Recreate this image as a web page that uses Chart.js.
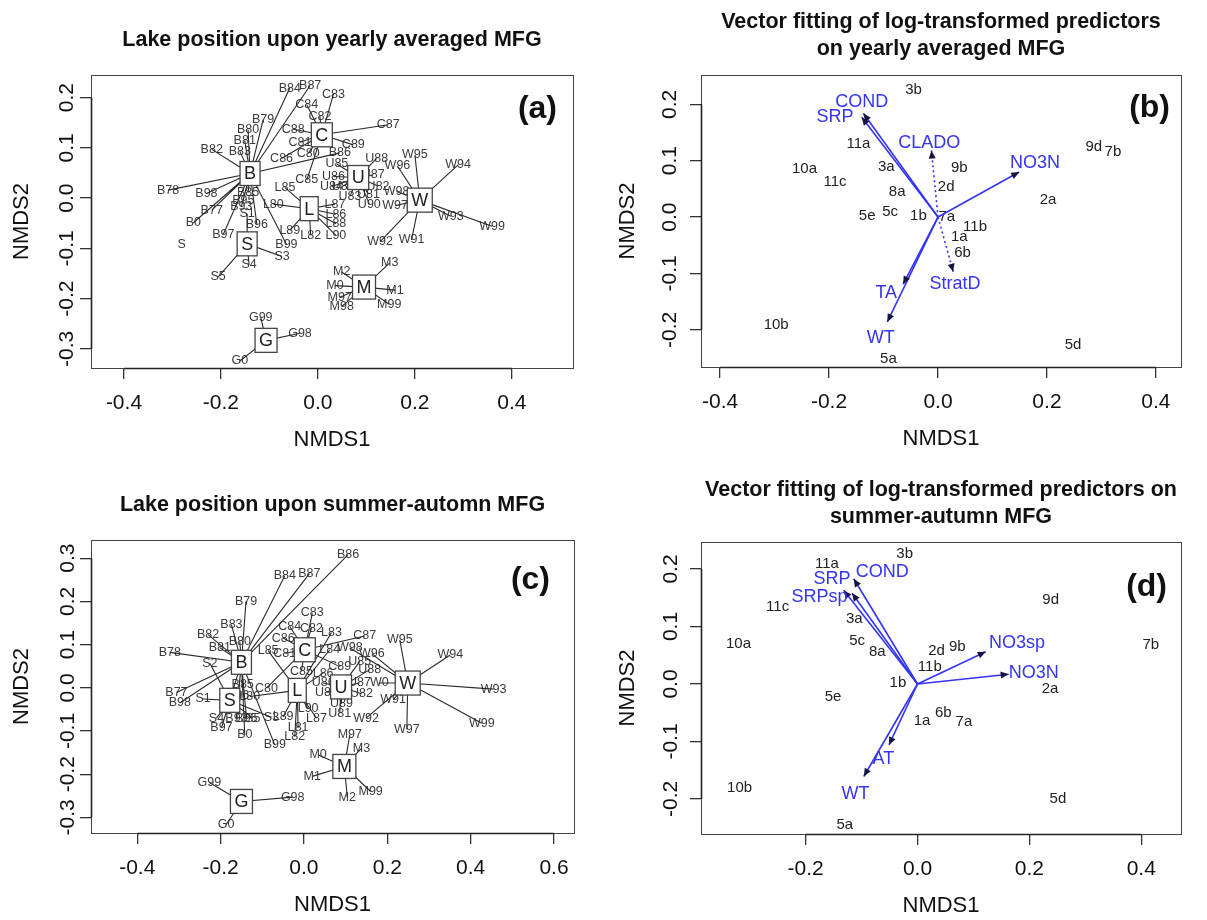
<!DOCTYPE html>
<html>
<head>
<meta charset="utf-8">
<script src="https://cdn.jsdelivr.net/npm/chart.js@4.4.1/dist/chart.umd.min.js"></script>
<style>
  body { margin: 0; background: #fff; width: 1207px; height: 920px; position: relative; overflow: hidden; }
  canvas { position: absolute; }
</style>
</head>
<body>
<canvas id="chA" width="603" height="460" style="left:0;top:0"></canvas>
<canvas id="chB" width="604" height="460" style="left:603px;top:0"></canvas>
<canvas id="chC" width="603" height="460" style="left:0;top:460px"></canvas>
<canvas id="chD" width="604" height="460" style="left:603px;top:460px"></canvas>
<script>
const FONT = '"Liberation Sans", Arial, Helvetica, sans-serif';
const BLUE = '#3434f4';

// (a) lake position upon yearly averaged MFG
const aAxisX = [-0.468, 0.526];
const aAxisY = [-0.338, 0.245];
const aTicksX = [-0.4, -0.2, 0, 0.2, 0.4];
const aTicksY = [-0.3, -0.2, -0.1, 0, 0.1, 0.2];
const aLakes = ['B', 'C', 'U', 'W', 'L', 'S', 'M', 'G'];
const aLakeX = [-0.140, 0.008, 0.083, 0.210, -0.018, -0.146, 0.095, -0.107];
const aLakeY = [0.049, 0.126, 0.041, -0.004, -0.021, -0.091, -0.177, -0.283];
const aSites = ['B84','B87','B79','B80','B81','B82','B83','B78','B98','B77','B0','B85','B95','B93','B96','B97','B99','B86',
  'C83','C84','C82','C88','C87','C89','C81','C86','C80','C85',
  'U88','U85','U86','U84','U89','U83','U87','U82','U81','U90',
  'W95','W94','W96','W98','W97','W93','W99','W92','W91',
  'L85','L80','L89','L82','L90','L87','L86','L88',
  'S1','S3','S4','S5',
  'M3','M2','M0','M1','M97','M98','M99',
  'G99','G98','G0'];
const aSiteX = [-0.058,-0.016,-0.113,-0.144,-0.151,-0.219,-0.161,-0.309,-0.230,-0.219,-0.257,-0.144,-0.154,-0.158,-0.126,-0.195,-0.065,0.045,
  0.032,-0.023,0.004,-0.051,0.145,0.073,-0.037,-0.075,-0.020,-0.023,
  0.121,0.039,0.032,0.028,0.052,0.066,0.114,0.124,0.104,0.106,
  0.200,0.289,0.164,0.162,0.159,0.274,0.359,0.128,0.193,
  -0.068,-0.092,-0.058,-0.015,0.037,0.035,0.037,0.037,
  -0.146,-0.074,-0.142,-0.206,
  0.148,0.049,0.035,0.159,0.045,0.049,0.147,
  -0.118,-0.037,-0.161];
const aSiteY = [0.219,0.224,0.156,0.136,0.115,0.097,0.093,0.016,0.009,-0.024,-0.049,0.011,-0.004,-0.017,-0.052,-0.072,-0.092,0.090,
  0.207,0.186,0.163,0.137,0.146,0.106,0.111,0.079,0.089,0.036,
  0.079,0.068,0.043,0.023,0.024,0.004,0.046,0.024,0.008,-0.012,
  0.086,0.066,0.064,0.013,-0.015,-0.036,-0.056,-0.087,-0.083,
  0.021,-0.012,-0.064,-0.074,-0.074,-0.012,-0.032,-0.051,
  -0.031,-0.116,-0.132,-0.157,
  -0.129,-0.147,-0.174,-0.183,-0.197,-0.216,-0.211,
  -0.237,-0.269,-0.324];
const aLoose = ['S'];
const aLooseX = [-0.281];
const aLooseY = [-0.092];

// (b) vectors on yearly averaged MFG
const bAxisX = [-0.435, 0.446];
const bAxisY = [-0.266, 0.252];
const bTicksX = [-0.4, -0.2, 0, 0.2, 0.4];
const bTicksY = [-0.2, -0.1, 0, 0.1, 0.2];
const bSites = ['3b','11a','10a','11c','3a','9b','2d','8a','5c','5e','1b','7a','11b','1a','6b','2a','9d','7b','10b','5d','5a'];
const bSiteX = [-0.045,-0.146,-0.245,-0.189,-0.095,0.039,0.015,-0.075,-0.088,-0.130,-0.036,0.016,0.068,0.039,0.045,0.202,0.286,0.321,-0.297,0.248,-0.091];
const bSiteY = [0.226,0.129,0.085,0.063,0.089,0.088,0.053,0.045,0.009,0.002,0.002,0.001,-0.017,-0.035,-0.063,0.030,0.125,0.116,-0.191,-0.227,-0.252];
const bVectors = ['COND','SRP','CLADO','NO3N','StratD','TA','WT'];
const bVecX = [-0.137,-0.140,-0.012,0.149,0.028,-0.064,-0.093];
const bVecY = [0.184,0.177,0.118,0.080,-0.097,-0.119,-0.186];
const bVecLabX = [-0.140,-0.189,-0.016,0.178,0.031,-0.095,-0.105];
const bVecLabY = [0.204,0.178,0.132,0.095,-0.118,-0.134,-0.214];
const bDotted = ['CLADO', 'StratD'];

// (c) lake position upon summer-autumn MFG
const cAxisX = [-0.511, 0.648];
const cAxisY = [-0.336, 0.342];
const cTicksX = [-0.4, -0.2, 0, 0.2, 0.4, 0.6];
const cTicksY = [-0.3, -0.2, -0.1, 0, 0.1, 0.2, 0.3];
const cLakes = ['B', 'C', 'S', 'L', 'U', 'W', 'M', 'G'];
const cLakeX = [-0.150, 0.002, -0.178, -0.016, 0.089, 0.249, 0.097, -0.150];
const cLakeY = [0.059, 0.088, -0.029, -0.006, 0.002, 0.011, -0.182, -0.263];
const cSites = ['B86','B84','B87','B79','B83','B82','B80','B81','B78','B77','B98','B99','B0','B97','B85','B96','B93','B95',
  'S2','S1','S4','S5','S3',
  'C83','C84','C82','C87','C86','C81','C85','C89','C80',
  'L83','L85','L84','L90','L87','L89','L81','L82','L80','L86',
  'U85','U88','U86','U84','U87','U82','U89','U81',
  'W95','W94','W98','W96','W0','W93','W91','W92','W97','W99',
  'M97','M3','M0','M1','M2','M99',
  'G99','G98','G0'];
const cSiteX = [0.106,-0.046,0.013,-0.139,-0.174,-0.230,-0.154,-0.202,-0.322,-0.306,-0.298,-0.070,-0.142,-0.198,-0.147,-0.158,-0.162,-0.138,
  -0.226,-0.242,-0.210,-0.123,-0.078,
  0.020,-0.034,0.018,0.146,-0.050,-0.046,-0.006,0.086,-0.090,
  0.066,-0.086,0.062,0.010,0.030,-0.050,-0.014,-0.022,-0.130,0.046,
  0.134,0.158,0.046,0.054,0.133,0.138,0.090,0.086,
  0.230,0.351,0.110,0.163,0.181,0.455,0.214,0.149,0.247,0.427,
  0.110,0.138,0.034,0.020,0.104,0.160,
  -0.227,-0.027,-0.187];
const cSiteY = [0.308,0.259,0.264,0.200,0.146,0.123,0.107,0.093,0.082,-0.011,-0.035,-0.132,-0.109,-0.093,0.007,-0.019,-0.070,-0.070,
  0.057,-0.026,-0.070,-0.070,-0.068,
  0.173,0.142,0.138,0.120,0.115,0.080,0.038,0.049,-0.001,
  0.128,0.086,0.088,-0.049,-0.070,-0.067,-0.093,-0.113,-0.020,0.034,
  0.061,0.042,0.011,-0.011,0.011,-0.014,-0.037,-0.059,
  0.111,0.076,0.092,0.079,0.011,-0.003,-0.028,-0.070,-0.096,-0.082,
  -0.109,-0.140,-0.155,-0.205,-0.253,-0.240,
  -0.219,-0.253,-0.317];

// (d) vectors on summer-autumn MFG
const dAxisX = [-0.387, 0.471];
const dAxisY = [-0.261, 0.247];
const dTicksX = [-0.2, 0, 0.2, 0.4];
const dTicksY = [-0.2, -0.1, 0, 0.1, 0.2];
const dSites = ['3b','11a','11c','9d','3a','10a','5c','8a','2d','9b','7b','11b','1b','2a','5e','1a','6b','7a','10b','5d','5a'];
const dSiteX = [-0.023,-0.162,-0.250,0.238,-0.113,-0.320,-0.108,-0.072,0.034,0.071,0.417,0.022,-0.035,0.237,-0.151,0.008,0.046,0.083,-0.318,0.251,-0.130];
const dSiteY = [0.226,0.209,0.134,0.146,0.114,0.070,0.075,0.056,0.058,0.065,0.068,0.030,0.002,-0.009,-0.023,-0.064,-0.050,-0.066,-0.180,-0.199,-0.245];
const dVectors = ['COND','SRP','SRPsp','NO3sp','NO3N','AT','WT'];
const dVecX = [-0.114,-0.117,-0.132,0.122,0.163,-0.051,-0.096];
const dVecY = [0.183,0.158,0.163,0.056,0.017,-0.106,-0.161];
const dVecLabX = [-0.063,-0.153,-0.175,0.178,0.208,-0.061,-0.111];
const dVecLabY = [0.195,0.183,0.152,0.071,0.019,-0.131,-0.191];
const dDotted = [];

Chart.defaults.font.family = FONT;

const pts = (xs, ys) => xs.map((v, i) => ({ x: v, y: ys[i] }));
const fmt = v => (Math.abs(v) < 1e-9 ? 0 : v).toFixed(1);

// axes, box, tick labels, axis titles, panel tag
function drawFrame(chart, p) {
  const { ctx, chartArea: a } = chart;
  const x = chart.scales.x, y = chart.scales.y;
  ctx.save();
  ctx.strokeStyle = '#444';
  ctx.lineWidth = 1;
  ctx.strokeRect(a.left + 0.5, a.top + 0.5, a.right - a.left, a.bottom - a.top);
  ctx.strokeStyle = '#222';
  ctx.lineWidth = 1.6;
  ctx.beginPath();
  ctx.moveTo(x.getPixelForValue(p.tx[0]), a.bottom + 0.5);
  ctx.lineTo(x.getPixelForValue(p.tx[p.tx.length - 1]), a.bottom + 0.5);
  ctx.moveTo(a.left + 0.5, y.getPixelForValue(p.ty[0]));
  ctx.lineTo(a.left + 0.5, y.getPixelForValue(p.ty[p.ty.length - 1]));
  ctx.stroke();

  ctx.fillStyle = '#111';
  ctx.textAlign = 'center';
  ctx.textBaseline = 'middle';
  ctx.font = '21px ' + FONT;
  x.ticks.forEach(t => ctx.fillText(fmt(t.value), x.getPixelForValue(t.value), a.bottom + 35));
  y.ticks.forEach(t => {
    ctx.save();
    ctx.translate(a.left - p.yLabGap, y.getPixelForValue(t.value));
    ctx.rotate(-Math.PI / 2);
    ctx.fillText(fmt(t.value), 0, 0);
    ctx.restore();
  });

  ctx.font = '22px ' + FONT;
  ctx.fillText('NMDS1', (a.left + a.right) / 2, a.bottom + 72);
  ctx.save();
  ctx.translate(p.yTitleX, (a.top + a.bottom) / 2);
  ctx.rotate(-Math.PI / 2);
  ctx.fillText('NMDS2', 0, 0);
  ctx.restore();

  ctx.font = 'bold 32px ' + FONT;
  ctx.textAlign = 'right';
  ctx.fillText(p.tag, a.right - p.tagDx, a.top + p.tagDy);
  ctx.restore();
}

function baseOptions(p) {
  const grid = { drawOnChartArea: false, drawTicks: true, tickLength: 11, color: '#333', lineWidth: 1.3 };
  return {
    responsive: false,
    animation: false,
    events: [],
    layout: { padding: p.pad },
    plugins: {
      legend: { display: false },
      tooltip: { enabled: false },
      title: {
        display: true, fullSize: false, text: p.title, color: '#111',
        font: { family: FONT, size: 21.5, weight: 'bold', lineHeight: '27px' },
        padding: p.titlePad
      }
    },
    scales: {
      x: {
        type: 'linear', min: p.rx[0], max: p.rx[1],
        afterBuildTicks: s => { s.ticks = p.tx.map(v => ({ value: v })); },
        afterFit: s => { s.height = 12; },
        ticks: { display: false }, border: { display: false }, grid: grid
      },
      y: {
        type: 'linear', min: p.ry[0], max: p.ry[1],
        afterBuildTicks: s => { s.ticks = p.ty.map(v => ({ value: v })); },
        afterFit: s => { s.width = 12; },
        ticks: { display: false }, border: { display: false }, grid: grid
      }
    }
  };
}

// spider plot: centroid boxes joined to each site label
function spiderChart(id, p) {
  const lines = [];
  p.sites.forEach((n, i) => {
    const g = p.lakes.indexOf(n[0]);
    lines.push({ x: p.lakeX[g], y: p.lakeY[g] }, { x: p.siteX[i], y: p.siteY[i] }, { x: null, y: null });
  });
  const hidden = { showLine: false, pointRadius: 0, pointHoverRadius: 0 };
  new Chart(document.getElementById(id), {
    type: 'scatter',
    data: {
      datasets: [
        Object.assign({ data: pts(p.lakeX, p.lakeY) }, hidden),
        Object.assign({ data: pts(p.siteX, p.siteY) }, hidden),
        Object.assign({ data: pts(p.looseX || [], p.looseY || []) }, hidden),
        { data: lines, showLine: true, spanGaps: false, pointRadius: 0, pointHoverRadius: 0,
          borderColor: '#2a2a2a', borderWidth: 1.1 }
      ]
    },
    options: baseOptions(p),
    plugins: [{
      id: 'spider',
      beforeDatasetsDraw(chart) {
        const ctx = chart.ctx;
        ctx.save();
        ctx.font = '12.5px ' + FONT;
        ctx.fillStyle = '#3a3a3a';
        ctx.textAlign = 'center';
        ctx.textBaseline = 'middle';
        chart.getDatasetMeta(1).data.forEach((e, i) => ctx.fillText(p.sites[i], e.x, e.y));
        chart.getDatasetMeta(2).data.forEach((e, i) => ctx.fillText(p.loose[i], e.x, e.y));
        ctx.restore();
      },
      afterDatasetsDraw(chart) {
        const ctx = chart.ctx;
        ctx.save();
        ctx.font = '18px ' + FONT;
        ctx.textAlign = 'center';
        ctx.textBaseline = 'middle';
        chart.getDatasetMeta(0).data.forEach((e, i) => {
          const w = ctx.measureText(p.lakes[i]).width + 8, h = 24;
          ctx.fillStyle = '#fff';
          ctx.fillRect(e.x - w / 2, e.y - h / 2, w, h);
          ctx.strokeStyle = '#444';
          ctx.lineWidth = 1.3;
          ctx.strokeRect(e.x - w / 2, e.y - h / 2, w, h);
          ctx.fillStyle = '#222';
          ctx.fillText(p.lakes[i], e.x, e.y + 1);
        });
        ctx.restore();
      },
      afterDraw(chart) { drawFrame(chart, p); }
    }]
  });
}

// fitted vectors drawn as arrows from the origin
function vectorChart(id, p) {
  const hidden = { showLine: false, pointRadius: 0, pointHoverRadius: 0 };
  const arrows = p.vecs.map((n, i) => ({
    data: [{ x: 0, y: 0 }, { x: p.vecX[i], y: p.vecY[i] }],
    showLine: true, pointRadius: 0, pointHoverRadius: 0,
    borderColor: BLUE, borderWidth: 1.6,
    borderDash: p.dotted.includes(n) ? [2, 3] : []
  }));
  new Chart(document.getElementById(id), {
    type: 'scatter',
    data: {
      datasets: [
        Object.assign({ data: pts(p.siteX, p.siteY) }, hidden),
        Object.assign({ data: pts(p.labX, p.labY) }, hidden)
      ].concat(arrows)
    },
    options: baseOptions(p),
    plugins: [{
      id: 'vectors',
      beforeDatasetsDraw(chart) {
        const ctx = chart.ctx;
        ctx.save();
        ctx.font = '15px ' + FONT;
        ctx.fillStyle = '#222';
        ctx.textAlign = 'center';
        ctx.textBaseline = 'middle';
        chart.getDatasetMeta(0).data.forEach((e, i) => ctx.fillText(p.sites[i], e.x, e.y));
        ctx.restore();
      },
      afterDatasetsDraw(chart) {
        const ctx = chart.ctx;
        ctx.save();
        ctx.fillStyle = '#151540';
        p.vecs.forEach((n, i) => {
          const d = chart.getDatasetMeta(i + 2).data;
          const a = Math.atan2(d[1].y - d[0].y, d[1].x - d[0].x);
          const L = 8, W = 3.5, c = Math.cos(a), s = Math.sin(a);
          ctx.beginPath();
          ctx.moveTo(d[1].x, d[1].y);
          ctx.lineTo(d[1].x - L * c + W * s, d[1].y - L * s - W * c);
          ctx.lineTo(d[1].x - L * c - W * s, d[1].y - L * s + W * c);
          ctx.closePath();
          ctx.fill();
        });
        ctx.font = '18px ' + FONT;
        ctx.fillStyle = BLUE;
        ctx.textAlign = 'center';
        ctx.textBaseline = 'middle';
        chart.getDatasetMeta(1).data.forEach((e, i) => ctx.fillText(p.vecs[i], e.x, e.y));
        ctx.restore();
      },
      afterDraw(chart) { drawFrame(chart, p); }
    }]
  });
}

spiderChart('chA', {
  title: 'Lake position upon yearly averaged MFG', titlePad: { top: 26.5, bottom: 21.5 },
  pad: { left: 79, right: 30, top: 0, bottom: 80 },
  rx: aAxisX, ry: aAxisY, tx: aTicksX, ty: aTicksY,
  lakes: aLakes, lakeX: aLakeX, lakeY: aLakeY,
  sites: aSites, siteX: aSiteX, siteY: aSiteY,
  loose: aLoose, looseX: aLooseX, looseY: aLooseY,
  yLabGap: 24, yTitleX: 22, tag: '(a)', tagDx: 16, tagDy: 34
});

vectorChart('chB', {
  title: ['Vector fitting of log-transformed predictors', 'on yearly averaged MFG'],
  titlePad: { top: 8.5, bottom: 12.5 },
  pad: { left: 86, right: 26, top: 0, bottom: 81 },
  rx: bAxisX, ry: bAxisY, tx: bTicksX, ty: bTicksY,
  sites: bSites, siteX: bSiteX, siteY: bSiteY,
  vecs: bVectors, vecX: bVecX, vecY: bVecY, labX: bVecLabX, labY: bVecLabY, dotted: bDotted,
  yLabGap: 31, yTitleX: 25, tag: '(b)', tagDx: 11, tagDy: 33
});

spiderChart('chC', {
  title: 'Lake position upon summer-automn MFG', titlePad: { top: 31.5, bottom: 21.5 },
  pad: { left: 79, right: 29, top: 0, bottom: 75 },
  rx: cAxisX, ry: cAxisY, tx: cTicksX, ty: cTicksY,
  lakes: cLakes, lakeX: cLakeX, lakeY: cLakeY,
  sites: cSites, siteX: cSiteX, siteY: cSiteY,
  loose: [], looseX: [], looseY: [],
  yLabGap: 23, yTitleX: 22, tag: '(c)', tagDx: 24, tagDy: 40
});

vectorChart('chD', {
  title: ['Vector fitting of log-transformed predictors on', 'summer-autumn MFG'],
  titlePad: { top: 16.5, bottom: 11.5 },
  pad: { left: 86, right: 26, top: 0, bottom: 74 },
  rx: dAxisX, ry: dAxisY, tx: dTicksX, ty: dTicksY,
  sites: dSites, siteX: dSiteX, siteY: dSiteY,
  vecs: dVectors, vecX: dVecX, vecY: dVecY, labX: dVecLabX, labY: dVecLabY, dotted: dDotted,
  yLabGap: 30, yTitleX: 25, tag: '(d)', tagDx: 14, tagDy: 45
});
</script>
</body>
</html>
